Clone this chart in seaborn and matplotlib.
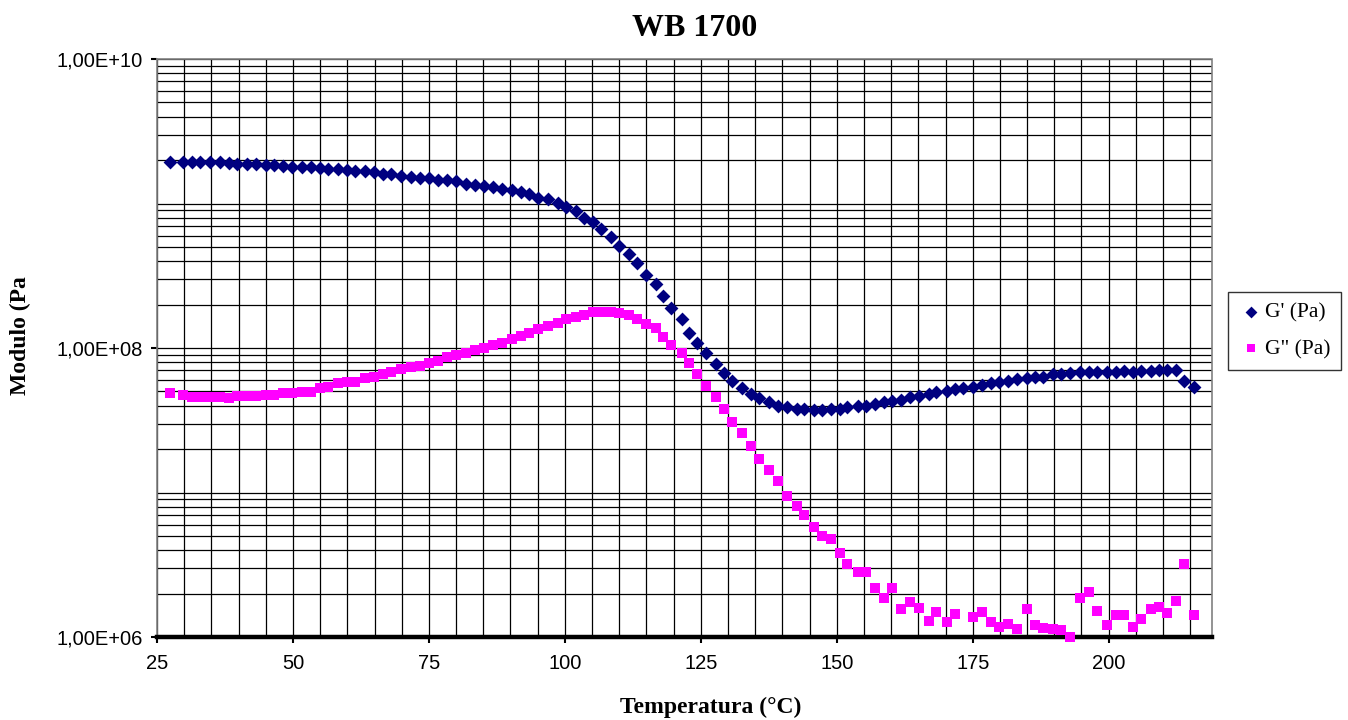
import numpy as np
import pandas as pd
import matplotlib
matplotlib.use("Agg")
import matplotlib.pyplot as plt
from matplotlib.ticker import FixedLocator, LogLocator, MultipleLocator, FuncFormatter, NullFormatter
import seaborn as sns

# temperatura (°C), stessa scala per le due serie
temperatura = [
    27.4, 29.7, 31.4, 32.9, 34.7, 36.5, 38.2, 39.8, 41.5, 43.2,
    45.0, 46.6, 48.2, 49.9, 51.6, 53.3, 55.0, 56.5, 58.2, 60.0,
    61.5, 63.2, 64.9, 66.5, 68.1, 69.9, 71.7, 73.3, 75.0, 76.7,
    78.3, 80.0, 81.8, 83.5, 85.1, 86.7, 88.4, 90.2, 91.9, 93.4,
    95.1, 96.9, 98.7, 100.2, 102.0, 103.5, 105.2, 106.7, 108.4, 110.0,
    111.8, 113.3, 115.0, 116.7, 118.1, 119.6, 121.5, 122.8, 124.3, 126.0,
    127.8, 129.2, 130.8, 132.5, 134.2, 135.7, 137.5, 139.2, 140.8, 142.6,
    144.0, 145.8, 147.2, 149.0, 150.6, 151.9, 153.9, 155.3, 157.1, 158.6,
    160.2, 161.9, 163.4, 165.1, 166.9, 168.3, 170.2, 171.8, 173.3, 175.1,
    176.7, 178.4, 179.8, 181.5, 183.2, 184.9, 186.4, 187.9, 189.8, 191.3,
    192.8, 194.7, 196.3, 197.9, 199.7, 201.3, 202.8, 204.5, 206.0, 207.7,
    209.2, 210.8, 212.4, 213.8, 215.7,
]

g_storage = [
    1.93e9, 1.95e9, 1.95e9, 1.95e9, 1.95e9, 1.95e9, 1.90e9, 1.88e9, 1.88e9, 1.88e9,
    1.84e9, 1.85e9, 1.83e9, 1.79e9, 1.79e9, 1.78e9, 1.75e9, 1.74e9, 1.72e9, 1.70e9,
    1.67e9, 1.67e9, 1.64e9, 1.61e9, 1.60e9, 1.56e9, 1.53e9, 1.50e9, 1.49e9, 1.46e9,
    1.45e9, 1.42e9, 1.37e9, 1.34e9, 1.33e9, 1.31e9, 1.27e9, 1.24e9, 1.21e9, 1.16e9,
    1.10e9, 1.07e9, 1.01e9, 9.4e8, 8.9e8, 8.0e8, 7.5e8, 6.7e8, 5.9e8, 5.1e8,
    4.5e8, 3.9e8, 3.2e8, 2.76e8, 2.29e8, 1.90e8, 1.58e8, 1.28e8, 1.08e8, 9.3e7,
    7.8e7, 6.7e7, 5.9e7, 5.3e7, 4.8e7, 4.5e7, 4.2e7, 4.0e7, 3.9e7, 3.78e7,
    3.78e7, 3.7e7, 3.7e7, 3.8e7, 3.78e7, 3.93e7, 3.97e7, 3.97e7, 4.07e7, 4.2e7,
    4.3e7, 4.4e7, 4.56e7, 4.68e7, 4.8e7, 4.94e7, 5.07e7, 5.18e7, 5.29e7, 5.4e7,
    5.56e7, 5.74e7, 5.78e7, 5.94e7, 6.07e7, 6.17e7, 6.27e7, 6.33e7, 6.57e7, 6.64e7,
    6.68e7, 6.86e7, 6.86e7, 6.86e7, 6.86e7, 6.86e7, 6.97e7, 6.82e7, 6.97e7, 6.97e7,
    7.05e7, 7.05e7, 7.05e7, 5.9e7, 5.4e7,
]

g_loss = [
    4.91e7, 4.73e7, 4.61e7, 4.61e7, 4.61e7, 4.61e7, 4.49e7, 4.65e7, 4.65e7, 4.65e7,
    4.73e7, 4.73e7, 4.85e7, 4.85e7, 4.99e7, 4.99e7, 5.26e7, 5.40e7, 5.70e7, 5.85e7,
    5.85e7, 6.17e7, 6.32e7, 6.61e7, 6.86e7, 7.16e7, 7.35e7, 7.50e7, 7.83e7, 8.17e7,
    8.62e7, 8.96e7, 9.2e7, 9.68e7, 9.95e7, 1.05e8, 1.09e8, 1.15e8, 1.22e8, 1.28e8,
    1.35e8, 1.42e8, 1.50e8, 1.58e8, 1.65e8, 1.69e8, 1.78e8, 1.78e8, 1.78e8, 1.74e8,
    1.69e8, 1.58e8, 1.47e8, 1.37e8, 1.20e8, 1.05e8, 9.2e7, 7.9e7, 6.6e7, 5.5e7,
    4.6e7, 3.77e7, 3.06e7, 2.57e7, 2.10e7, 1.71e7, 1.43e7, 1.20e7, 9.5e6, 8.1e6,
    6.99e6, 5.74e6, 5.02e6, 4.77e6, 3.79e6, 3.18e6, 2.80e6, 2.80e6, 2.17e6, 1.85e6,
    2.17e6, 1.56e6, 1.75e6, 1.60e6, 1.30e6, 1.48e6, 1.26e6, 1.44e6, np.nan, 1.37e6,
    1.49e6, 1.27e6, 1.18e6, 1.24e6, 1.13e6, 1.56e6, 1.21e6, 1.15e6, 1.13e6, 1.11e6,
    1.00e6, 1.87e6, 2.06e6, 1.52e6, 1.21e6, 1.42e6, 1.42e6, 1.18e6, 1.34e6, 1.56e6,
    1.61e6, 1.47e6, 1.77e6, 3.18e6, 1.42e6,
]

x_ticks = [25, 50, 75, 100, 125, 150, 175, 200]
y_ticks = [1e6, 1e8, 1e10]

SERIF = ["Liberation Serif", "DejaVu Serif"]
SANS = ["Liberation Sans", "DejaVu Sans"]

sns.set_style("white")
plt.rcParams["font.family"] = SANS
plt.rcParams["text.color"] = "black"

df = pd.DataFrame({"T": temperatura, "G1": g_storage, "G2": g_loss})

fig = plt.figure(figsize=(13.48, 7.2), dpi=100)
ax = fig.add_axes([157 / 1348, 83 / 720, 1055 / 1348, 578 / 720])

sns.scatterplot(data=df, x="T", y="G1", marker="D", color="#000080", s=50,
                linewidth=0, ax=ax, label="G' (Pa)", zorder=3, clip_on=False)
sns.scatterplot(data=df, x="T", y="G2", marker="s", color="#FF00FF", s=46,
                linewidth=0, ax=ax, label='G" (Pa)', zorder=3, clip_on=False)

ax.set_yscale("log")
ax.set_xlim(25, 219)
ax.set_ylim(1e6, 1e10)

ax.xaxis.set_major_locator(FixedLocator(x_ticks))
ax.xaxis.set_minor_locator(MultipleLocator(5))
ax.yaxis.set_major_locator(FixedLocator(y_ticks))
ax.yaxis.set_minor_locator(LogLocator(base=10, subs=np.arange(1, 10), numticks=50))
ax.yaxis.set_minor_formatter(NullFormatter())
ax.yaxis.set_major_formatter(FuncFormatter(lambda v, p: f"{v:.2E}".replace(".", ",")))

ax.grid(which="both", axis="both", color="black", linewidth=0.9)
ax.set_axisbelow(True)

ax.tick_params(axis="both", which="major", direction="out", labelsize=14.5,
               length=4, width=1.5, color="black", labelcolor="black")
ax.tick_params(axis="x", which="major", pad=8)
ax.tick_params(axis="y", which="major", pad=6)
ax.tick_params(which="minor", length=0)
ax.xaxis.set_ticks_position("bottom")
ax.yaxis.set_ticks_position("left")

for side in ["top", "right", "left"]:
    ax.spines[side].set_color("#808080")
    ax.spines[side].set_linestyle((0, (2, 1)))
    ax.spines[side].set_linewidth(1.2)
ax.spines["bottom"].set_color("black")
ax.spines["bottom"].set_linewidth(3.2)

ax.set_xlabel("")
ax.set_ylabel("")

fig.text(695 / 1348, 1 - 28 / 720, "WB 1700", ha="center", va="center",
         fontsize=23, fontweight="bold", family=SERIF, color="black")
fig.text(711 / 1348, 1 - 707 / 720, "Temperatura (°C)", ha="center", va="center",
         fontsize=17, fontweight="bold", family=SERIF, color="black")
fig.text(20 / 1348, 1 - 336 / 720, "Modulo (Pa", ha="center", va="center",
         rotation=90, fontsize=17, fontweight="bold", family=SERIF, color="black")

ax.get_legend().remove()
handles, labels = ax.get_legend_handles_labels()
leg = fig.legend(handles, labels, loc="upper left",
                 bbox_to_anchor=(1228 / 1348, 1 - 292 / 720), borderaxespad=0,
                 frameon=True, fancybox=False, shadow=False,
                 prop={"family": SERIF, "size": 15.5}, handletextpad=0.1,
                 handlelength=1.1, borderpad=0.5, labelspacing=0.75, markerscale=0.85)
leg.get_frame().set_edgecolor("black")
leg.get_frame().set_linewidth(1.0)
for t in leg.get_texts():
    t.set_color("black")

fig.savefig("out.png", dpi=100, facecolor="white")
